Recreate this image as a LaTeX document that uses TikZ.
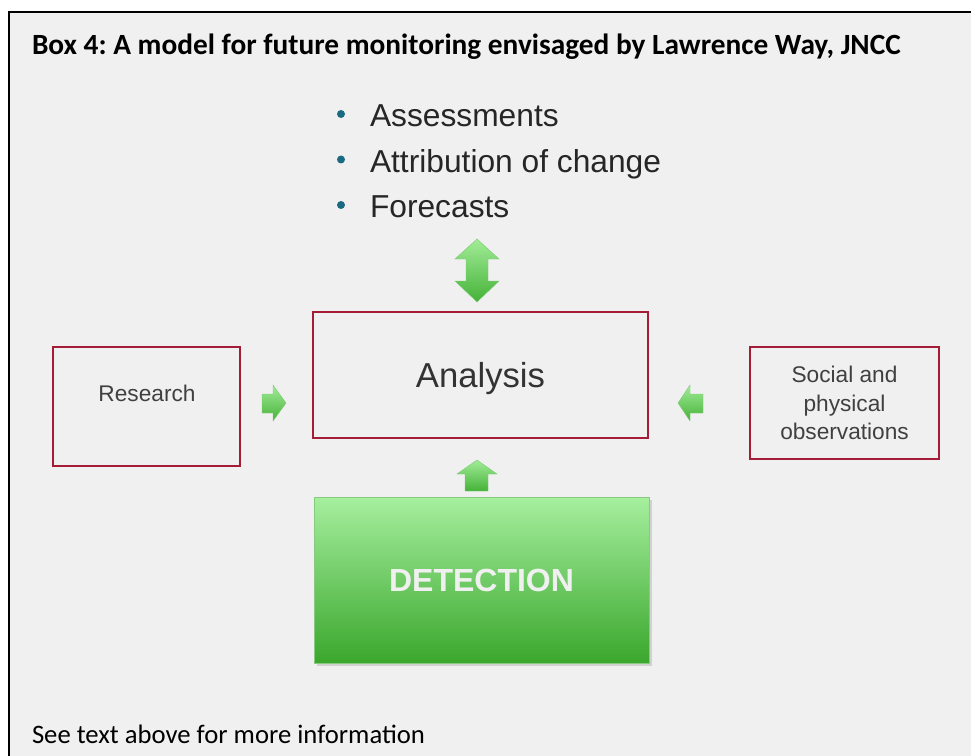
\documentclass[tikz,border=0pt]{standalone}
\usepackage{fontspec}
\setmainfont{Liberation Sans}
\newfontfamily\boxfont{Carlito}
\usetikzlibrary{positioning}
\frenchspacing
\definecolor{framebg}{HTML}{F0F0F0}
\definecolor{boxred}{HTML}{A51C36}
\definecolor{bulletblue}{HTML}{1B6A84}
\definecolor{greenlight}{HTML}{A6EF9E}
\definecolor{greendark}{HTML}{3AA72D}
\definecolor{arrowlight}{HTML}{A2EC97}
\definecolor{arrowdark}{HTML}{45B238}

\begin{document}
\begin{tikzpicture}[x=0.75pt, y=-0.75pt,
  every node/.style = {inner sep=0pt, outer sep=0pt},
  redbox/.style = {draw=boxred, line width=1.5pt, fill=framebg,
    align=center, text=black!80},
  boxtext/.style = {font=\fontsize{17}{21.4}\selectfont, text=black!75, align=center},
  item/.style = {anchor=base west, font=\fontsize{23.8}{28}\selectfont, text=black!85},
  blockarrow/.style = {top color=arrowlight, bottom color=arrowdark,
    draw=arrowdark!70, line width=0.3pt}]
  \useasboundingbox (0,0) rectangle (971,756);
  \fill[white] (0,0) rectangle (971,756);
  \draw[line width=1.5pt, fill=framebg] (9,12) rectangle (995,790);

  \node[anchor=base west, font=\boxfont\bfseries\fontsize{22}{26}\selectfont]
    (title) at (32,55) {Box 4: A model for future monitoring envisaged by Lawrence Way, JNCC};

  % outputs of the analysis
  \foreach \t [count=\i] in {Assessments, Attribution of change, Forecasts} {
    \node[item] (item\i) at (370,{127+45.5*(\i-1)}) {\t};
    \fill[bulletblue] (341,{114+45.5*(\i-1)}) circle (4);
  }

  \node[redbox, minimum width=251.25pt, minimum height=94.5pt,
    font=\fontsize{26}{30}\selectfont, text depth=0pt] (analysis) at (480.5,375) {Analysis};
  \node[redbox, minimum width=140.25pt, minimum height=89.25pt] (research) at (146.5,406.5) {};
  \node[boxtext] (researchlbl) at (147,393) {Research};
  \node[redbox, boxtext, minimum width=141.75pt, minimum height=84pt]
    (social) at (844.5,403) {Social and\\physical\\observations};

  \fill[black!18] (317,500) rectangle (652,666);
  \node[minimum width=251.25pt, minimum height=124.5pt,
    top color=greenlight, bottom color=greendark, draw=greendark!60,
    font=\bfseries\fontsize{24}{28}\selectfont, text=framebg] (detection) at (481.5,580) {DETECTION};

  % block arrows
  \path[blockarrow] (477,239) -- (499,259) -- (488,259) -- (488,281) -- (499,281)
    -- (477,302) -- (455,281) -- (466,281) -- (466,259) -- (455,259) -- cycle;
  \path[blockarrow] (262,394) -- (273,394) -- (273,385) -- (286,403) -- (273,421)
    -- (273,413) -- (262,413) -- cycle;
  \path[blockarrow] (703,394) -- (690,394) -- (690,385) -- (678,403) -- (690,421)
    -- (690,413) -- (703,413) -- cycle;
  \path[blockarrow] (477,460) -- (497,474) -- (488,474) -- (488,491) -- (465,491)
    -- (465,474) -- (457,474) -- cycle;

  \node[anchor=base west, font=\boxfont\fontsize{20}{24}\selectfont]
    (note) at (32,743) {See text above for more information};
\end{tikzpicture}
\end{document}
